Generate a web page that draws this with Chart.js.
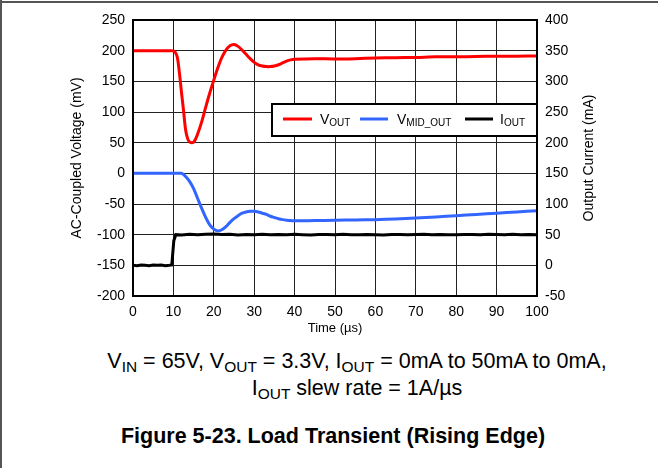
<!DOCTYPE html>
<html><head><meta charset="utf-8">
<script src="https://cdn.jsdelivr.net/npm/chart.js@4"></script>
<style>
body{margin:0;background:#fff;font-family:"Liberation Sans",Arial,sans-serif;}
#wrap{position:relative;width:658px;height:468px;overflow:hidden;background:#fff}
#c{position:absolute;left:0;top:0}
.cap{position:absolute;width:658px;text-align:center;color:#000;white-space:nowrap;line-height:24px}
sub{font-size:72%;vertical-align:-0.28em;line-height:0}
#ft{position:absolute;left:0;top:1px;width:658px;height:2px;background:#555}
#fl{position:absolute;left:0;top:0;width:2px;height:468px;background:#555}
</style></head>
<body><div id="wrap">
<canvas id="c" width="658" height="340"></canvas>
<div id="ft"></div><div id="fl"></div>
<div class="cap" style="left:28px;top:349px;font-size:21.5px">V<sub>IN</sub> = 65V, V<sub>OUT</sub> = 3.3V, I<sub>OUT</sub> = 0mA to 50mA to 0mA,</div>
<div class="cap" style="left:28px;top:376px;font-size:21.5px">I<sub>OUT</sub> slew rate = 1A/µs</div>
<div class="cap" style="left:4px;top:424px;font-size:21.5px;font-weight:bold">Figure 5-23. Load Transient (Rising Edge)</div>
</div>
<script>
// Time axis (µs)
const xTicks = [0,10,20,30,40,50,60,70,80,90,100];
const yLeftTicks = [-200,-150,-100,-50,0,50,100,150,200,250];
const yRightTicks = [-50,0,50,100,150,200,250,300,350,400];

// V_OUT (mV, AC coupled)
const tVout = [0,2,4,6,8,9.5,10,10.5,11,11.5,12,12.5,13,13.5,14,14.5,15,15.5,16,17,18,19,20,21,22,23,24,25,26,27,28,29,30,31,32,33,34,35,36,37,38,39,40,45,50,55,60,65,70,75,80,85,90,95,100];
const vout = [200,200,200,200,200,200,199.5,197,188,163,132,103,72,57,51,50,51,56,64,84,108,131,152,172,189,201,208,210,207,201,194,187,181,177,175,174,174,175,177,180,183,185,186,187,186.5,187,188,188.5,189,190,190,190.5,191,191,191.5];

// V_MID_OUT (mV, AC coupled)
const tVmid = [0,2,4,6,8,10,11,12,12.5,13,14,15,16,17,18,19,20,21,22,23,24,25,26,27,28,29,30,31,32,33,34,35,36,37,38,39,40,45,50,55,60,65,70,75,80,85,90,95,100];
const vmid = [0,0,0,0,0,0,0,0,-2,-5,-13,-25,-41,-57,-72,-84,-91,-94,-92,-87,-80,-74,-69,-65,-63,-62,-62,-63,-65,-67,-70,-72,-74,-75.5,-76.5,-77,-77.5,-77,-76.5,-76,-75.5,-74.5,-73,-71,-69,-67,-65,-63,-61];

// I_OUT (mA)
const tIout = [0,1,2,3,4,5,6,7,8,9,9.6,10.1,10.6,12,14,16,18,20,22,24,26,28,30,32,34,36,38,40,42,44,46,48,50,52,54,56,58,60,62,64,66,68,70,72,74,76,78,80,82,84,86,88,90,92,94,96,98,100];
const iout = [0,-0.5,0.5,0,-0.5,0.5,0,0.5,-0.5,0,0.5,40,50,49.5,50.5,49.8,50.6,51,50.2,50.8,49.6,50.4,50,50.6,49.8,50.3,49.7,50.5,50,49.6,50.4,50.1,49.7,50.5,50,49.8,50.4,50,49.6,50.3,50.1,49.7,50.2,50.6,49.8,50.3,50,49.7,50.4,50.1,49.8,50.5,50.2,49.9,50.6,50,50.3,50];

const pts = (t, v) => t.map((x, i) => ({x, y: v[i]}));
const FONT = '"Liberation Sans", Arial, sans-serif';
const RIGHT_TITLE = 'Output Current (mA)';

function drawSub(ctx, x, y, main, sub) {
  ctx.font = '14px ' + FONT;
  ctx.fillText(main, x, y);
  const w = ctx.measureText(main).width;
  ctx.font = '10px ' + FONT;
  ctx.fillText(sub, x + w, y + 3);
}

const framePlugin = {
  id: 'frame',
  afterDatasetsDraw(chart) {
    const {ctx, chartArea: a} = chart;
    ctx.save();
    ctx.strokeStyle = '#000'; ctx.lineWidth = 2;
    ctx.strokeRect(a.left, a.top, a.right - a.left, a.bottom - a.top);
    ctx.restore();
  },
  afterDraw(chart) {
    const {ctx, chartArea: a} = chart;
    // right axis title, reading bottom-to-top
    ctx.save();
    ctx.translate(a.right + 52, (a.top + a.bottom) / 2);
    ctx.rotate(-Math.PI / 2);
    ctx.font = '14px ' + FONT;
    ctx.fillStyle = '#000';
    ctx.textAlign = 'center'; ctx.textBaseline = 'middle';
    ctx.fillText(RIGHT_TITLE, 0, 0);
    ctx.restore();
    // legend
    const bl = a.right - 265, bt = a.top + 84, bw = 265, bh = 32;
    ctx.save();
    ctx.fillStyle = '#fff';
    ctx.fillRect(bl, bt, bw, bh);
    ctx.strokeStyle = '#000'; ctx.lineWidth = 2;
    ctx.strokeRect(bl, bt, bw, bh);
    const cy = bt + 15;
    const items = [
      {c: '#ff0000', x0: 11, x1: 40, tx: 48, m: 'V', s: 'OUT'},
      {c: '#3366ff', x0: 88, x1: 116, tx: 125, m: 'V', s: 'MID_OUT'},
      {c: '#000000', x0: 193, x1: 221, tx: 228, m: 'I', s: 'OUT'}
    ];
    ctx.lineWidth = 3;
    ctx.textBaseline = 'middle';
    items.forEach(it => {
      ctx.strokeStyle = it.c;
      ctx.beginPath(); ctx.moveTo(bl + it.x0, cy); ctx.lineTo(bl + it.x1, cy); ctx.stroke();
      ctx.fillStyle = '#000';
      drawSub(ctx, bl + it.tx, cy + 1, it.m, it.s);
    });
    ctx.restore();
  }
};

new Chart(document.getElementById('c'), {
  type: 'line',
  data: {
    datasets: [
      {label: 'VOUT', data: pts(tVout, vout), borderColor: '#ff0000', borderWidth: 3, pointRadius: 0, tension: 0.3, yAxisID: 'y'},
      {label: 'VMID_OUT', data: pts(tVmid, vmid), borderColor: '#3366ff', borderWidth: 3, pointRadius: 0, tension: 0.3, yAxisID: 'y'},
      {label: 'IOUT', data: pts(tIout, iout), borderColor: '#000000', borderWidth: 3, pointRadius: 0, tension: 0, yAxisID: 'y2'}
    ]
  },
  options: {
    responsive: false,
    animation: false,
    layout: {padding: {top: 20, left: 0, right: 0, bottom: 0}},
    plugins: {legend: {display: false}, tooltip: {enabled: false}},
    scales: {
      x: {
        type: 'linear', min: 0, max: 100,
        afterBuildTicks: s => { s.ticks = xTicks.map(v => ({value: v})); },
        ticks: {color: '#000', font: {size: 14, family: FONT}, padding: 8, maxRotation: 0},
        grid: {color: '#222', lineWidth: 1, drawTicks: false},
        border: {color: '#000', width: 2},
        title: {display: true, text: 'Time (µs)', color: '#000', font: {size: 13, family: FONT}, padding: {top: 0, bottom: 4}},
        afterFit: s => { s.height = 44; }
      },
      y: {
        position: 'left', min: -200, max: 250,
        afterBuildTicks: s => { s.ticks = yLeftTicks.map(v => ({value: v})); },
        ticks: {color: '#000', font: {size: 14, family: FONT}, padding: 8},
        grid: {color: '#222', lineWidth: 1, drawTicks: false},
        border: {color: '#000', width: 2},
        title: {display: true, text: 'AC-Coupled Voltage (mV)', color: '#000', font: {size: 14, family: FONT}, padding: {top: 69, bottom: 0}},
        afterFit: s => { s.width = 133; }
      },
      y2: {
        position: 'right', min: -50, max: 400,
        afterBuildTicks: s => { s.ticks = yRightTicks.map(v => ({value: v})); },
        ticks: {color: '#000', font: {size: 14, family: FONT}, padding: 8},
        grid: {drawOnChartArea: false, drawTicks: false},
        border: {color: '#000', width: 2},
        title: {display: false},
        afterFit: s => { s.width = 121; }
      }
    }
  },
  plugins: [framePlugin]
});
</script>
</body></html>
